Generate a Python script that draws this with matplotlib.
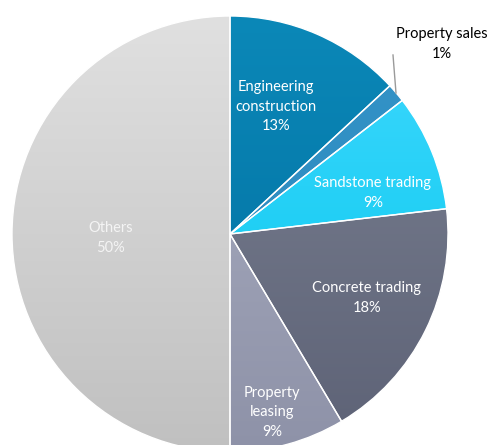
import numpy as np
import matplotlib
matplotlib.use('Agg')
import matplotlib.pyplot as plt
from matplotlib.colors import LinearSegmentedColormap

# ---------------- data ----------------
segments = ['Engineering\nconstruction', 'Property sales', 'Sandstone trading',
            'Concrete trading', 'Property\nleasing', 'Others']
shares = [13.1, 1.4, 8.65, 18.3, 8.55, 50.0]

# gradient colours (top, bottom) per slice
tops = ['#0b88b8', '#3494c8', '#40d8ff', '#7b8192', '#abafc2', '#e0e0e0']
bottoms = ['#006d9e', '#2a86bb', '#00c6ea', '#5d6276', '#8e92a8', '#c0c0c0']
text_colors = ['white', 'black', 'white', 'white', 'white', '#f4f4f4']

# label positions in pixel coords (x, y from top)
label_pos = [(276, 107), (442, 44), (373, 193), (367, 298), (272, 412), (111, 238)]

W, H = 491, 445
CX, CY, R = 230, 234, 218

fig = plt.figure(figsize=(W / 100, H / 100), dpi=100)
ax = fig.add_axes([0, 0, 1, 1])

wedges, _ = ax.pie(shares, center=(CX, H - CY), radius=R, startangle=90,
                   counterclock=False, frame=True,
                   wedgeprops=dict(edgecolor='white', linewidth=1.0))

grad = np.linspace(0, 1, 256).reshape(-1, 1)
for w, c0, c1 in zip(wedges, tops, bottoms):
    cmap = LinearSegmentedColormap.from_list('g', [c0, c1])
    im = ax.imshow(grad, cmap=cmap, aspect='auto', origin='upper',
                   extent=(CX - R, CX + R, H - CY - R, H - CY + R), zorder=1)
    im.set_clip_path(w)
    w.set_facecolor('none')
    w.set_zorder(2)

for name, val, (x, y), tc in zip(segments, shares, label_pos, text_colors):
    ax.text(x, H - y, '%s\n%d%%' % (name, round(val)), ha='center', va='center',
            color=tc, fontsize=10.5, family='Lato', linespacing=1.5, zorder=4)

# leader line for the small slice
ax.plot([396, 393], [H - 93, H - 55], color='#9a9a9a', lw=1, zorder=3)

ax.set_xlim(0, W)
ax.set_ylim(0, H)
ax.axis('off')

fig.savefig('out.png', dpi=100)
